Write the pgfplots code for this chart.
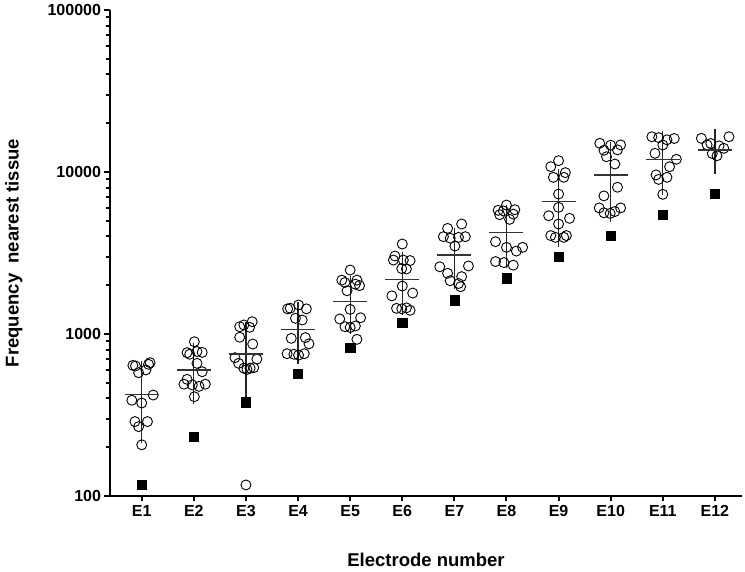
\documentclass[border=0pt]{standalone}
\usepackage{pgfplots}
\usepackage{pgfplotstable}
\usepackage{fontspec}
\setmainfont{Liberation Sans}
\pgfplotsset{compat=1.18}
\usetikzlibrary{plotmarks}

\pgfplotstableread{
x y
0.83 640
0.88 635
1.16 665
1.13 650
0.94 577
1.08 600
1.22 420
0.81 390
1.00 375
0.87 288
1.11 288
0.94 268
1.00 207
2.01 896
1.87 767
1.92 750
2.06 780
2.16 770
2.06 659
2.16 585
1.87 525
1.81 490
1.97 485
2.10 475
2.22 490
2.01 410
2.88 1109
2.96 1137
3.07 1100
3.12 1191
2.88 955
3.13 867
2.79 714
3.21 700
2.86 659
2.96 615
3.02 605
3.08 615
3.15 620
3.00 117
3.85 1442
4.01 1510
4.16 1430
3.80 1430
3.95 1250
4.08 1220
3.87 940
4.14 950
4.21 870
3.79 756
3.92 750
4.01 740
4.12 756
5.00 2483
4.84 2150
4.90 2080
5.10 2030
5.13 2150
4.94 1850
5.18 1990
5.00 1419
4.80 1238
5.20 1260
4.90 1110
5.00 1097
5.10 1120
5.13 927
6.00 3593
5.86 3030
5.83 2860
6.02 2860
6.15 2840
5.99 2534
6.08 2520
6.00 1977
5.80 1720
6.20 1790
5.89 1440
5.99 1430
6.08 1450
6.15 1400
7.14 4775
6.87 4487
6.79 3990
6.92 3900
7.08 3950
7.21 3990
7.01 3491
6.72 2600
7.27 2630
6.87 2370
7.14 2260
6.92 2133
7.08 2050
7.12 1960
8.00 6252
7.84 5800
8.16 5850
7.87 5450
8.13 5500
7.94 5750
8.06 5100
7.79 3714
8.00 3427
8.19 3250
8.31 3427
7.79 2800
7.95 2760
8.13 2660
9.00 11750
8.85 10790
9.13 9910
8.90 9270
9.10 9270
9.00 7310
9.00 6050
8.81 5370
9.21 5175
9.00 4775
8.85 4050
8.94 3950
9.10 3950
9.15 4050
9.79 15040
10.00 14630
10.19 14700
9.87 13620
10.13 13700
9.92 12420
10.08 11200
10.13 8050
9.87 7120
9.78 6000
10.19 6000
10.08 5700
9.87 5600
9.99 5550
10.79 16500
10.92 16300
11.08 15800
11.22 16100
11.00 14680
10.85 13040
11.26 11980
11.13 10780
10.87 9600
11.08 9270
10.92 9000
11.00 7280
11.74 16140
12.27 16510
11.92 15000
11.85 14700
12.08 14500
12.17 14000
11.95 13000
12.04 12600
}\circles

\pgfplotstableread{
x y
1 118
2 232
3 379
4 571
5 822
6 1170
7 1616
8 2210
9 3000
10 4045
11 5480
12 7310
}\squares

\pgfplotstableread{
x m sd
1 424 184
2 600 180
3 753 302
4 1069 330
5 1585 450
6 2163 680
7 3076 950
8 4218 1350
9 6565 2700
10 9580 4000
11 11980 3800
12 13670 2650
}\stats

\begin{document}
\begin{tikzpicture}
\useasboundingbox (-110pt,-75pt) rectangle (635pt,496pt);
\begin{axis}[
  at={(0pt,0pt)}, anchor=south west,
  scale only axis, width=632pt, height=486pt,
  ymode=log, ymin=100, ymax=100000,
  xmin=0.391, xmax=12.52,
  axis x line*=bottom, axis y line*=left,
  axis line style={line width=2.1pt, -},
  xtick={1,2,3,4,5,6,7,8,9,10,11,12},
  xticklabels={E1,E2,E3,E4,E5,E6,E7,E8,E9,E10,E11,E12},
  ytick={100,1000,10000,100000},
  yticklabels={100,1000,10000,100000},
  minor ytick={200,300,400,500,600,700,800,900,2000,3000,4000,5000,6000,7000,8000,9000,20000,30000,40000,50000,60000,70000,80000,90000},
  tick align=outside,
  major tick length=5.5pt, minor tick length=3.5pt,
  tick style={black, line width=2pt},
  ticklabel style={font=\fontsize{16}{19}\selectfont\bfseries},
  label style={font=\fontsize{18.5}{22}\selectfont\bfseries},
  xlabel={Electrode number},
  ylabel={Frequency~~nearest tissue},
  xlabel style={at={(axis description cs:0.5,-0.1317)}, anchor=center},
  ylabel style={at={(axis description cs:-0.152,0.5)}, anchor=center},
  clip=false,
]
\addplot[only marks, mark=o, mark size=5pt, mark options={black, line width=0.9pt}] table[x=x,y=y] {\circles};
\addplot[only marks, mark=square*, mark size=4.6pt, mark options={black}] table[x=x,y=y] {\squares};
\addplot[only marks, mark=-, mark size=17pt, mark options={black!80, line width=1.2pt}] table[x=x,y=m] {\stats};
\addplot[draw=none, mark=none,
  error bars/.cd, y dir=both, y explicit,
  error mark=-, error mark options={mark size=8.5pt, line width=1.2pt, draw=black!85},
  error bar style={line width=1.3pt, draw=black!85}]
  table[x=x,y=m,y error=sd] {\stats};
\end{axis}
\end{tikzpicture}
\end{document}
